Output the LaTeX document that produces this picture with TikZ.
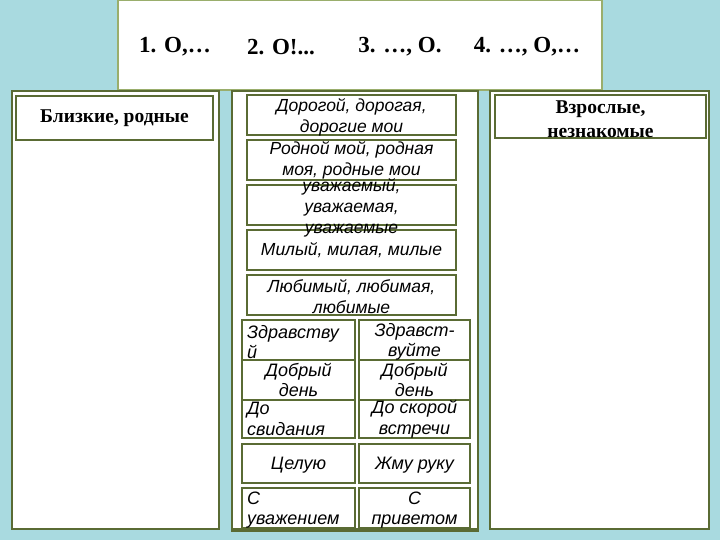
\documentclass[tikz,border=0pt]{standalone}
\usepackage{fontspec}
\setmainfont{Liberation Serif}
\newfontfamily\arialf{Liberation Sans}
\definecolor{bgaqua}{HTML}{A9DAE0}
\definecolor{colborder}{HTML}{5A6B34}
\definecolor{topborder}{HTML}{9AAE6C}
\tikzset{
  column/.style={draw=colborder, line width=2.5pt, fill=white, inner sep=0pt},
  topbox/.style={draw=topborder, line width=2pt, fill=white, inner sep=0pt},
  headbox/.style={draw=colborder, line width=2.5pt, fill=white, inner sep=0pt},
  cell/.style={draw=colborder, line width=2.5pt, fill=white, inner sep=0pt},
  toptxt/.style={font=\fontsize{23}{26}\selectfont\bfseries, inner sep=0pt},
  headtxt/.style={font=\fontsize{19.5}{24}\selectfont\bfseries, align=center, inner sep=0pt},
  midtxt/.style={font=\arialf\itshape\fontsize{17.5}{21}\selectfont, align=center, inner sep=0pt},
  smalltxt/.style={font=\arialf\itshape\fontsize{18}{20.5}\selectfont, align=center, inner sep=0pt},
  lefttxt/.style={font=\arialf\itshape\fontsize{18}{20.5}\selectfont, align=left, inner sep=0pt}
}
\begin{document}
\begin{tikzpicture}[x=1pt,y=-1pt]
\fill[bgaqua] (0,0) rectangle (720,540);
\useasboundingbox (0,0) rectangle (720,540);
% top box
\node[topbox, minimum width=484, minimum height=90] (top) at (360,45) {};
\node[toptxt] (t1) at (175,47) {1. О,\ldots};
\node[toptxt] (t2) at (281,47) {2. О!...};
\node[toptxt] (t3) at (400,47) {3. \ldots, О.};
\node[toptxt] (t4) at (527,47) {4. \ldots, О,\ldots};
% columns
\node[column, minimum width=207, minimum height=438] (lcol) at (115.5,310) {};
\node[column, minimum width=246, minimum height=438] (mcol) at (355,310) {};
\node[column, minimum width=219, minimum height=438] (rcol) at (599.5,310) {};
% headers
\node[headbox, minimum width=197, minimum height=44] (lh) at (114.5,118) {};
\node[headtxt] (lht) at (lh) {Близкие, родные};
\node[headbox, minimum width=211, minimum height=43] (rh) at (600.5,116.5) {};
\node[headtxt] (rht) at (600.5,119) {Взрослые,\\незнакомые};
% middle wide boxes
\node[cell, minimum width=209, minimum height=40] (m1) at (351.5,115) {};
\node[cell, minimum width=209, minimum height=40] (m2) at (351.5,160) {};
\node[cell, minimum width=209, minimum height=40] (m3) at (351.5,205) {};
\node[cell, minimum width=209, minimum height=40] (m4) at (351.5,250) {};
\node[cell, minimum width=209, minimum height=40] (m5) at (351.5,295) {};
% small cells
\node[cell, minimum width=113, minimum height=40] (a1) at (298.5,340) {};
\node[cell, minimum width=111, minimum height=40] (b1) at (414.5,340) {};
\node[cell, minimum width=113, minimum height=40] (a2) at (298.5,380) {};
\node[cell, minimum width=111, minimum height=40] (b2) at (414.5,380) {};
\node[cell, minimum width=113, minimum height=38] (a3) at (298.5,419) {};
\node[cell, minimum width=111, minimum height=38] (b3) at (414.5,419) {};
\node[cell, minimum width=113, minimum height=39] (a4) at (298.5,463.5) {};
\node[cell, minimum width=111, minimum height=39] (b4) at (414.5,463.5) {};
\node[cell, minimum width=113, minimum height=40] (a5) at (298.5,508) {};
\node[cell, minimum width=111, minimum height=40] (b5) at (414.5,508) {};
% redraw bottom of middle column over cells
\draw[colborder, line width=2.5pt] (mcol.south west) -- (mcol.south east);
% texts of the middle boxes
\node[midtxt] (m1t) at (351.5,117) {Дорогой, дорогая,\\дорогие мои};
\node[midtxt] (m2t) at (351.5,160) {Родной мой, родная\\моя, родные мои};
\node[midtxt] (m3t) at (351.5,207.5) {уважаемый,\\уважаемая,\\уважаемые};
\node[midtxt] (m4t) at (351.5,250) {Милый, милая, милые};
\node[midtxt] (m5t) at (351.5,297) {Любимый, любимая,\\любимые};
\node[lefttxt, text width=107] (a1t) at (300.5,342) {Здравству\\й};
\node[smalltxt] (b1t) at (414.5,342) {Здравст-\\вуйте};
\node[smalltxt] (a2t) at (298.5,380) {Добрый\\день};
\node[smalltxt] (b2t) at (414.5,380) {Добрый\\день};
\node[lefttxt, text width=107] (a3t) at (300.5,419) {До\\свидания};
\node[smalltxt] (b3t) at (414.5,419) {До скорой\\встречи};
\node[smalltxt] (a4t) at (298.5,465) {Целую};
\node[smalltxt] (b4t) at (414.5,465) {Жму руку};
\node[lefttxt, text width=107] (a5t) at (300.5,510) {С\\уважением};
\node[smalltxt] (b5t) at (414.5,510) {С\\приветом};
\end{tikzpicture}
\end{document}
